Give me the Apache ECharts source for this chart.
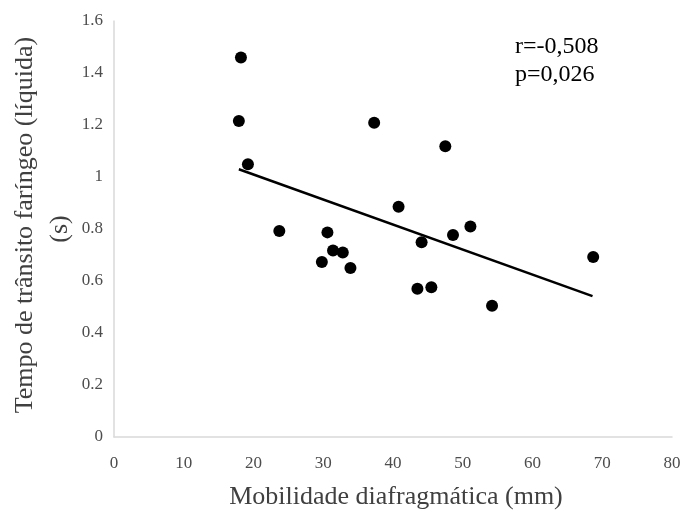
<!DOCTYPE html>
<html>
<head>
<meta charset="utf-8">
<script src="https://cdn.jsdelivr.net/npm/echarts@6/dist/echarts.min.js"></script>
<style>html,body{margin:0;padding:0;background:#fff}#c{width:685px;height:512px}</style>
</head>
<body>
<div id="c"></div>
<script>
const mobilidade = [18.2, 17.9, 37.3, 19.2, 40.8, 23.7, 30.6, 31.4, 32.8, 29.8, 33.9, 47.5, 51.1, 48.6, 44.1, 43.5, 45.5, 68.7, 54.2];
const tempo      = [1.46, 1.215, 1.209, 1.049, 0.886, 0.792, 0.787, 0.717, 0.710, 0.673, 0.650, 1.118, 0.810, 0.777, 0.749, 0.570, 0.576, 0.692, 0.505];
const trendX = [17.9, 68.6];
const trendY = [1.03, 0.542];
const xTicks = [0, 10, 20, 30, 40, 50, 60, 70, 80];
const yTicks = [0, 0.2, 0.4, 0.6, 0.8, 1, 1.2, 1.4, 1.6];
const xTitle = 'Mobilidade diafragmática (mm)';
const yTitle1 = 'Tempo de trânsito faríngeo (líquida)';
const yTitle2 = '(s)';
const stats = ['r=-0,508', 'p=0,026'];

const serif = '"Liberation Serif", "DejaVu Serif", serif';
const chart = echarts.init(document.getElementById('c'), null, {renderer: 'canvas'});
chart.setOption({
  animation: false,
  backgroundColor: '#fff',
  grid: {left: 114, right: 13, top: 21, bottom: 75, containLabel: false},
  xAxis: {
    type: 'value', min: xTicks[0], max: xTicks[xTicks.length - 1], interval: 10,
    axisLine: {show: true, lineStyle: {color: '#d9d9d9', width: 1.5}},
    axisTick: {show: false}, splitLine: {show: false},
    axisLabel: {color: '#4d4d4d', fontFamily: serif, fontSize: 17, margin: 18}
  },
  yAxis: {
    type: 'value', min: yTicks[0], max: yTicks[yTicks.length - 1], interval: 0.2,
    axisLine: {show: true, lineStyle: {color: '#d9d9d9', width: 1.5}},
    axisTick: {show: false}, splitLine: {show: false},
    axisLabel: {color: '#4d4d4d', fontFamily: serif, fontSize: 17, margin: 11,
      formatter: v => String(Math.round(v * 10) / 10)}
  },
  series: [
    {
      type: 'scatter', symbol: 'circle', symbolSize: 12,
      itemStyle: {color: '#000', opacity: 1},
      data: mobilidade.map((x, i) => [x, tempo[i]]),
      z: 3
    },
    {
      type: 'line', showSymbol: false, symbol: 'none',
      lineStyle: {color: '#000', width: 2.5},
      data: trendX.map((x, i) => [x, trendY[i]]),
      z: 2
    }
  ],
  graphic: [
    {type: 'text', x: 396, y: 497,
      style: {text: xTitle, font: '26px ' + serif, fill: '#404040', align: 'center', verticalAlign: 'middle'}},
    {type: 'text', x: 25, y: 225, rotation: Math.PI / 2,
      style: {text: yTitle1, font: '26px ' + serif, fill: '#404040', align: 'center', verticalAlign: 'middle'}},
    {type: 'text', x: 60, y: 229, rotation: Math.PI / 2,
      style: {text: yTitle2, font: '26px ' + serif, fill: '#404040', align: 'center', verticalAlign: 'middle'}},
    {type: 'text', x: 515, y: 47, style: {text: stats[0], font: '24px ' + serif, fill: '#000', verticalAlign: 'middle'}},
    {type: 'text', x: 515, y: 75, style: {text: stats[1], font: '24px ' + serif, fill: '#000', verticalAlign: 'middle'}}
  ]
});
</script>
</body>
</html>
